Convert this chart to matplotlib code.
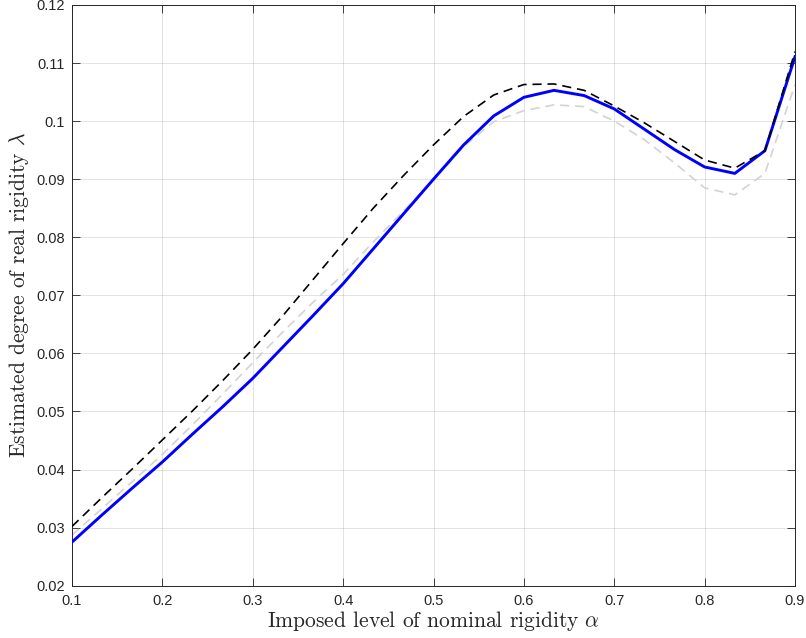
import numpy as np
import matplotlib
matplotlib.use("Agg")
import matplotlib.pyplot as plt

plt.rcParams["mathtext.fontset"] = "cm"

# nominal rigidity grid (25 points, step 1/30)
alpha = np.linspace(0.1, 0.9, 25)

# estimated real rigidity, baseline
lam_base = [0.0275, 0.0322, 0.0368, 0.0413, 0.0461, 0.0508, 0.0557, 0.0611,
            0.0665, 0.0720, 0.0780, 0.0840, 0.0900, 0.0959, 0.1009, 0.1041,
            0.1053, 0.1044, 0.1021, 0.0986, 0.0951, 0.0921, 0.0910, 0.0949,
            0.1111]
# upper variant (black dashed)
lam_high = [0.0302, 0.0352, 0.0401, 0.0451, 0.0501, 0.0553, 0.0607, 0.0665,
            0.0727, 0.0789, 0.0850, 0.0906, 0.0959, 0.1008, 0.1045, 0.1063,
            0.1064, 0.1053, 0.1026, 0.0997, 0.0965, 0.0933, 0.0919, 0.0949,
            0.1120]
# lower variant (light grey dashed)
lam_low = [0.0287, 0.0333, 0.0379, 0.0426, 0.0477, 0.0530, 0.0584, 0.0637,
           0.0688, 0.0736, 0.0792, 0.0845, 0.0899, 0.0956, 0.0999, 0.1018,
           0.1028, 0.1025, 0.1000, 0.0968, 0.0928, 0.0885, 0.0873, 0.0910,
           0.1063]

xticks = [0.1, 0.2, 0.3, 0.4, 0.5, 0.6, 0.7, 0.8, 0.9]
yticks = [0.02, 0.03, 0.04, 0.05, 0.06, 0.07, 0.08, 0.09, 0.1, 0.11, 0.12]
xtick_labels = ["0.1", "0.2", "0.3", "0.4", "0.5", "0.6", "0.7", "0.8", "0.9"]
ytick_labels = ["0.02", "0.03", "0.04", "0.05", "0.06", "0.07", "0.08",
                "0.09", "0.1", "0.11", "0.12"]

fig = plt.figure(figsize=(8.06, 6.38), dpi=100)
ax = fig.add_axes([0.0893, 0.082, 0.8971, 0.9102])

ax.plot(alpha, lam_low, color="#d3d3d3", lw=1.2, dashes=(5.5, 3.5), zorder=2)
ax.plot(alpha, lam_base, color="#0000ff", lw=2.1, zorder=3)
ax.plot(alpha, lam_high, color="black", lw=1.2, dashes=(5.5, 3.5), zorder=4)

ax.set_xlim(0.1, 0.9)
ax.set_ylim(0.02, 0.12)
ax.set_xticks(xticks)
ax.set_xticklabels(xtick_labels)
ax.set_yticks(yticks)
ax.set_yticklabels(ytick_labels)

ax.grid(True, color="#262626", alpha=0.15, lw=0.6)
ax.set_axisbelow(True)
ax.tick_params(direction="in", top=True, right=True, length=5.5, width=0.6,
               color="#262626", labelsize=10.5, labelcolor="#262626")
ax.tick_params(axis="x", pad=6)
ax.tick_params(axis="y", pad=5)
for lbl in ax.get_xticklabels() + ax.get_yticklabels():
    lbl.set_family("Liberation Sans")
for sp in ax.spines.values():
    sp.set_color("#262626")
    sp.set_linewidth(0.7)

ax.set_xlabel(r"Imposed level of nominal rigidity $\alpha$",
              family="cmr10", fontsize=15.5, color="#262626", labelpad=1)
ax.set_ylabel(r"Estimated degree of real rigidity $\lambda$",
              family="cmr10", fontsize=15.5, color="#262626", labelpad=4)

fig.savefig("out.png", dpi=100)
